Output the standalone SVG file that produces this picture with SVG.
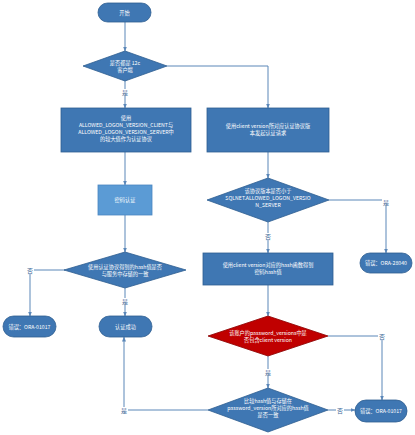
<svg xmlns="http://www.w3.org/2000/svg" width="415" height="435" viewBox="0 0 415 435">
<style>
.n{fill:#3f77b3;stroke:#2f5e91;stroke-width:0.8}
.l{fill:#5b9bd5;stroke:#4a86c0;stroke-width:0.8}
.r{fill:#c00000;stroke:#8b0000;stroke-width:0.8}
.t{font-family:"Noto Sans CJK SC","Liberation Sans",sans-serif;font-size:5.2px;fill:#ffffff;text-anchor:middle}
.e{stroke:#5b87b8;stroke-width:1;fill:none;marker-end:url(#a)}
.p{stroke:#5b87b8;stroke-width:1;fill:none}
.lb{font-family:"Noto Sans CJK SC","Liberation Sans",sans-serif;font-size:6px;fill:#3f6a99;text-anchor:middle}
</style>
<defs>
<marker id="a" viewBox="0 0 10 10" refX="9" refY="5" markerWidth="5" markerHeight="5" orient="auto">
<path d="M0,1 L10,5 L0,9 z" fill="#5b87b8"/>
</marker>
</defs>
<rect width="415" height="435" fill="#ffffff"/>
<g id="connectors">
<line class="e" x1="125" y1="22" x2="125" y2="51"/>
<polyline class="e" points="167,66 268,66 268,108"/>
<line class="e" x1="125" y1="80" x2="125" y2="108"/>
<line class="e" x1="125" y1="152" x2="125" y2="185"/>
<line class="e" x1="125" y1="215" x2="125" y2="252"/>
<polyline class="e" points="65,270 30,270 30,316"/>
<line class="e" x1="125" y1="288" x2="125" y2="316"/>
<line class="e" x1="268" y1="152" x2="268" y2="178"/>
<polyline class="e" points="329,200 386,200 386,253"/>
<line class="e" x1="268" y1="222" x2="268" y2="253"/>
<line class="e" x1="268" y1="285" x2="268" y2="316"/>
<polyline class="e" points="328,336 382,336 382,400"/>
<line class="e" x1="268" y1="356" x2="268" y2="388"/>
<line class="e" x1="328" y1="410" x2="355" y2="410"/>
<polyline class="e" points="208,410 124,410 124,337"/>
</g>
<g id="labels">
<rect x="121" y="89" width="8" height="7" fill="#fff"/><text class="lb" x="125" y="95">是</text>
<rect x="26" y="267" width="8" height="7" fill="#fff"/><text class="lb" x="30" y="273">否</text>
<rect x="121" y="298" width="8" height="7" fill="#fff"/><text class="lb" x="125" y="304">是</text>
<rect x="382" y="199" width="8" height="7" fill="#fff"/><text class="lb" x="386" y="205">是</text>
<rect x="264" y="233" width="8" height="7" fill="#fff"/><text class="lb" x="268" y="239">否</text>
<rect x="378" y="333" width="8" height="7" fill="#fff"/><text class="lb" x="382" y="339">否</text>
<rect x="264" y="369" width="8" height="7" fill="#fff"/><text class="lb" x="268" y="375">是</text>
<rect x="336" y="407" width="8" height="7" fill="#fff"/><text class="lb" x="340" y="413">否</text>
<rect x="120" y="407" width="8" height="7" fill="#fff"/><text class="lb" x="124" y="413">是</text>
</g>
<g id="start"><rect class="n" x="98" y="3" width="53" height="19" rx="9.5"/><text class="t" x="124.5" y="14.5">开始</text></g>
<g id="d1"><polygon class="n" points="125,51 167,66 125,81 83,66"/><text class="t" x="125" y="65">是否都是 12c</text><text class="t" x="125" y="72">客户端</text></g>
<g id="r1"><rect class="n" x="61" y="108" width="130" height="44"/><text class="t" x="126" y="120">使用</text><text class="t" x="126" y="127">ALLOWED_LOGON_VERSION_CLIENT与</text><text class="t" x="126" y="134">ALLOWED_LOGON_VERSION_SERVER中</text><text class="t" x="126" y="141">的较大值作为认证协议</text></g>
<g id="r2"><rect class="n" x="207" y="108" width="122" height="44"/><text class="t" x="268" y="128">使用client version所对应认证协议版</text><text class="t" x="268" y="135">本发起认证请求</text></g>
<g id="pw"><rect class="l" x="98" y="185" width="54" height="30"/><text class="t" x="125" y="202">密码认证</text></g>
<g id="d2"><polygon class="n" points="268,178 329,200 268,222 207,200"/><text class="t" x="268" y="193">该协议版本是否小于</text><text class="t" x="268" y="200">SQLNET.ALLOWED_LOGON_VERSIO</text><text class="t" x="268" y="207">N_SERVER</text></g>
<g id="d3"><polygon class="n" points="125,252 186,270 125,288 64,270"/><text class="t" x="125" y="269">使用认证协议得到的hash值是否</text><text class="t" x="125" y="276">与服务中存储的一致</text></g>
<g id="e1"><rect class="n" x="3" y="316" width="53" height="21" rx="10.5"/><text class="t" x="29.5" y="328.5">错误：ORA-01017</text></g>
<g id="ok"><rect class="n" x="99" y="316" width="53" height="21" rx="10.5"/><text class="t" x="125.5" y="328.5">认证成功</text></g>
<g id="e2"><rect class="n" x="360" y="253" width="52" height="20" rx="10"/><text class="t" x="386" y="265">错误：ORA-28040</text></g>
<g id="r3"><rect class="n" x="203" y="253" width="130" height="32"/><text class="t" x="268" y="267">使用client version对应的hash函数得到</text><text class="t" x="268" y="274">密码hash值</text></g>
<g id="d4"><polygon class="r" points="268,316 328,336 268,356 208,336"/><text class="t" x="268" y="335">该账户的password_versions中是</text><text class="t" x="268" y="342">否包含client version</text></g>
<g id="d5"><polygon class="n" points="268,388 328,410 268,432 208,410"/><text class="t" x="268" y="403">比较hash值与存储在</text><text class="t" x="268" y="410">password_version所对应的hash值</text><text class="t" x="268" y="417">是否一致</text></g>
<g id="e3"><rect class="n" x="355" y="400" width="52" height="22" rx="11"/><text class="t" x="381" y="413">错误：ORA-01017</text></g>
</svg>
